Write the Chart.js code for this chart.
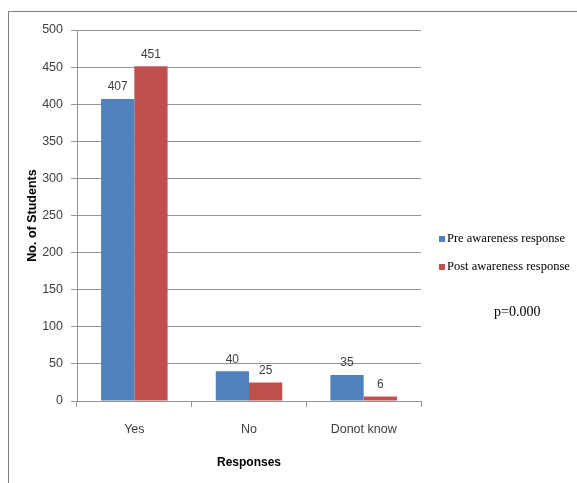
<!DOCTYPE html>
<html>
<head>
<meta charset="utf-8">
<script src="https://cdn.jsdelivr.net/npm/chart.js@4/dist/chart.umd.min.js"></script>
<style>
  html, body { margin: 0; padding: 0; background: #fff; }
  #wrap { width: 577px; height: 483px; position: relative; }
</style>
</head>
<body>
<div id="wrap"><canvas id="chart"></canvas></div>
<script>
const categories = ["Yes", "No", "Donot know"];
const preAwareness = [407, 40, 35];
const postAwareness = [451, 25, 6];
const seriesNames = ["Pre awareness response", "Post awareness response"];
const pValueText = "p=0.000";

const blue = "#4F81BD";
const red = "#C0504D";
const textGray = "#404040";
const lineGray = "#959595";
const sansFont = "'Liberation Sans', Arial, sans-serif";
const serifFont = "'Liberation Serif', 'DejaVu Serif', serif";

// value labels above bars, frame, legend and p value
const extras = {
  id: "extras",
  afterDatasetsDraw(chart) {
    const ctx = chart.ctx;
    ctx.save();
    ctx.font = "12px " + sansFont;
    ctx.fillStyle = textGray;
    ctx.textAlign = "center";
    ctx.textBaseline = "bottom";
    chart.data.datasets.forEach((ds, i) => {
      chart.getDatasetMeta(i).data.forEach((bar, j) => {
        ctx.fillText(String(ds.data[j]), bar.x, bar.y - 6);
      });
    });
    ctx.restore();
  },
  afterDraw(chart) {
    const ctx = chart.ctx;
    ctx.save();
    // outer frame
    ctx.strokeStyle = "#7f7f7f";
    ctx.lineWidth = 1;
    ctx.beginPath();
    ctx.moveTo(8.5, 483);
    ctx.lineTo(8.5, 11.5);
    ctx.lineTo(577, 11.5);
    ctx.stroke();

    // legend
    ctx.font = "12.5px " + serifFont;
    ctx.textBaseline = "middle";
    ctx.textAlign = "left";
    const legendY = [239, 267];
    chart.data.datasets.forEach((ds, i) => {
      ctx.fillStyle = ds.backgroundColor;
      ctx.fillRect(439, legendY[i] - 3, 6, 6);
      ctx.fillStyle = "#000";
      ctx.fillText(ds.label, 447, legendY[i]);
    });

    ctx.font = "14px " + serifFont;
    ctx.fillText(pValueText, 494, 312);
    ctx.restore();
  }
};

new Chart(document.getElementById("chart"), {
  type: "bar",
  data: {
    labels: categories,
    datasets: [
      { label: seriesNames[0], data: preAwareness, backgroundColor: blue },
      { label: seriesNames[1], data: postAwareness, backgroundColor: red },
    ],
  },
  options: {
    responsive: true,
    maintainAspectRatio: false,
    animation: false,
    categoryPercentage: 0.58,
    barPercentage: 1,
    layout: { padding: { top: 30, right: 156, bottom: 0, left: 0 } },
    plugins: {
      legend: { display: false },
      tooltip: { enabled: false },
    },
    scales: {
      x: {
        afterFit(scale) { scale.height = 82; },
        grid: {
          offset: true,
          drawOnChartArea: false,
          color: lineGray,
          tickLength: 6,
        },
        border: { color: lineGray },
        ticks: {
          color: textGray,
          font: { family: sansFont, size: 12.5 },
          padding: 15,
        },
        title: {
          display: true,
          text: "Responses",
          color: "#000",
          font: { family: sansFont, size: 12, weight: "bold" },
          padding: { bottom: 13 },
        },
      },
      y: {
        min: 0,
        max: 500,
        afterFit(scale) { scale.width = 77; },
        grid: { color: lineGray, tickLength: 6 },
        border: { color: lineGray },
        ticks: {
          stepSize: 50,
          color: textGray,
          font: { family: sansFont, size: 12.5 },
          padding: 8,
        },
        title: {
          display: true,
          text: "No. of Students",
          color: "#000",
          font: { family: sansFont, size: 12.5, weight: "bold" },
          padding: { top: 25 },
        },
      },
    },
  },
  plugins: [extras],
});
</script>
</body>
</html>
